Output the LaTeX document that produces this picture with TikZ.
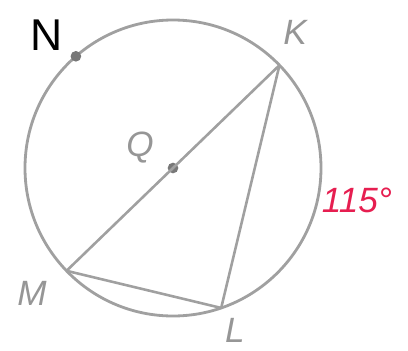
\documentclass[tikz,border=0pt]{standalone}
\usepackage{fontspec}
\setsansfont{Liberation Sans}
\usepackage{xcolor}
\usepackage{tikz}
\usetikzlibrary{positioning}
\definecolor{rimgray}{RGB}{160,160,160}
\definecolor{labgray}{RGB}{150,150,150}
\definecolor{dotgray}{RGB}{120,120,120}
\definecolor{arcred}{RGB}{230,30,80}
\tikzset{
  rim/.style    = {draw=rimgray, line width=2.4pt},
  chord/.style  = {draw=rimgray, line width=2.2pt},
  pt/.style     = {circle, fill=dotgray, inner sep=0pt, minimum size=3.2mm},
  plab/.style   = {text=labgray, font=\fontsize{30}{30}\selectfont\sffamily\itshape, inner sep=0pt},
  nlab/.style   = {text=black, font=\fontsize{38}{38}\selectfont\sffamily, inner sep=0pt},
  alab/.style   = {text=arcred, font=\fontsize{30}{30}\selectfont\sffamily\itshape, inner sep=0pt},
}

\begin{document}
\begin{tikzpicture}
  \useasboundingbox (-5.19,-5.46) rectangle (7.05,5.04);
  % ---- circle with centre Q
  \coordinate (Q) at (0,0);
  \draw[rim] (Q) circle (4.44);
  \coordinate (K) at (44:4.44);
  \coordinate (M) at (224:4.44);
  \coordinate (L) at (-71:4.44);
  \node[pt] (N) at (131:4.44) {};
  \node[pt] (Qdot) at (Q) {};
  % ---- chords
  \draw[chord] (K) -- (M);
  \draw[chord] (K) -- (L);
  \draw[chord] (M) -- (L);
  % ---- labels
  \node[nlab] (labN) at (-3.78,3.99) {N};
  \node[plab] (labK) at (3.66,4.08) {K};
  \node[plab] (labQ) at (-0.99,0.6) {Q};
  \node[plab] (labM) at (-4.23,-3.75) {M};
  \node[plab] (labL) at (1.86,-4.86) {L};
  \node[alab] (arc) at (5.52,-0.96) {115\textdegree};
\end{tikzpicture}
\end{document}
